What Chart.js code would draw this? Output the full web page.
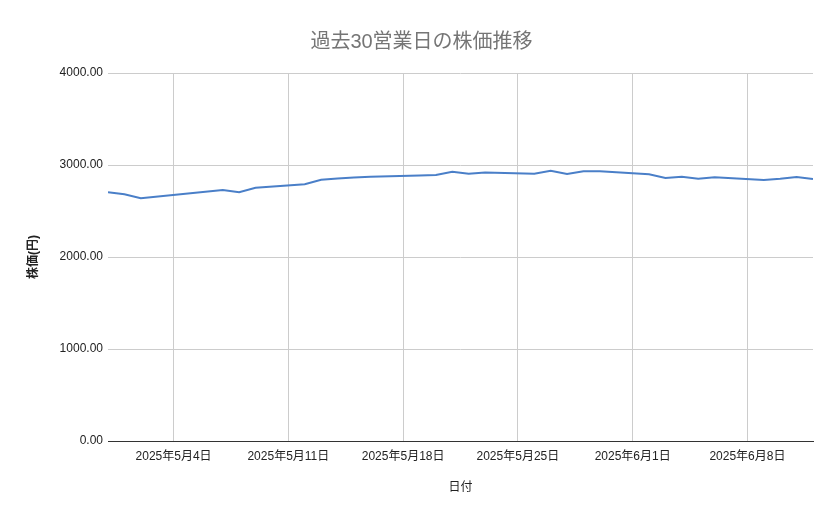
<!DOCTYPE html>
<html>
<head>
  <meta charset="utf-8">
  <title>過去30営業日の株価推移</title>
  <script src="https://cdn.jsdelivr.net/npm/chart.js"></script>
  <style>
    html, body { margin: 0; padding: 0; background: #ffffff; }
    #wrap { width: 839px; height: 519px; position: relative; }
  </style>
</head>
<body>
  <div id="wrap"><canvas id="myChart"></canvas></div>
  <script>
    // 営業日（ゴールデンウィーク 5/3〜5/6 は休み）
    var fechas = [
      '2025-04-30', '2025-05-01', '2025-05-02',
      '2025-05-07', '2025-05-08', '2025-05-09',
      '2025-05-12', '2025-05-13', '2025-05-14', '2025-05-15', '2025-05-16',
      '2025-05-19', '2025-05-20', '2025-05-21', '2025-05-22', '2025-05-23',
      '2025-05-26', '2025-05-27', '2025-05-28', '2025-05-29', '2025-05-30',
      '2025-06-02', '2025-06-03', '2025-06-04', '2025-06-05', '2025-06-06',
      '2025-06-09', '2025-06-10', '2025-06-11', '2025-06-12'
    ];
    // 株価（円）
    var precios = [
      2705, 2682, 2638,
      2728, 2703, 2753,
      2790, 2840, 2853, 2864, 2873,
      2886, 2891, 2927, 2905, 2918,
      2906, 2938, 2902, 2931, 2931,
      2900, 2859, 2873, 2851, 2866,
      2837, 2851, 2870, 2848
    ];
    // x 軸の目盛り
    var etiquetasX = ['2025-05-04', '2025-05-11', '2025-05-18', '2025-05-25', '2025-06-01', '2025-06-08'];
    var etiquetasY = [0, 1000, 2000, 3000, 4000];

    var FUENTE = "Arial, 'Liberation Sans', 'Noto Sans CJK JP', sans-serif";

    function aDia(s) {
      var p = s.split('-');
      return Date.UTC(+p[0], +p[1] - 1, +p[2]) / 86400000;
    }
    function formatoFecha(d) {
      var f = new Date(d * 86400000);
      return f.getUTCFullYear() + '年' + (f.getUTCMonth() + 1) + '月' + f.getUTCDate() + '日';
    }

    var puntos = [];
    for (var i = 0; i < fechas.length; i++) {
      puntos.push({ x: aDia(fechas[i]), y: precios[i] });
    }
    var ticksX = etiquetasX.map(aDia);

    var ctx = document.getElementById('myChart').getContext('2d');
    new Chart(ctx, {
      type: 'line',
      data: {
        datasets: [{
          label: '株価',
          data: puntos,
          borderColor: '#4a7fc8',
          backgroundColor: '#4a7fc8',
          borderWidth: 2,
          pointRadius: 0,
          tension: 0,
          fill: false
        }]
      },
      options: {
        responsive: true,
        maintainAspectRatio: false,
        animation: false,
        // left padding pushes the centred title to the right, like the original
        layout: { padding: { left: 30, right: 26, top: 0, bottom: 0 } },
        plugins: {
          legend: { display: false },
          tooltip: { enabled: false },
          title: {
            display: true,
            text: '過去30営業日の株価推移',
            color: '#757575',
            font: { family: FUENTE, size: 20, weight: 'normal' },
            padding: { top: 30, bottom: 19 }
          }
        },
        scales: {
          x: {
            type: 'linear',
            min: aDia(fechas[0]),
            max: aDia(fechas[fechas.length - 1]),
            afterBuildTicks: function (scale) {
              scale.ticks = ticksX.map(function (v) { return { value: v }; });
            },
            afterFit: function (scale) { scale.height = 78; },
            ticks: {
              autoSkip: false,
              maxRotation: 0,
              padding: 8,
              color: '#222222',
              font: { family: FUENTE, size: 12 },
              callback: function (v) { return formatoFecha(v); }
            },
            grid: { color: '#cccccc', lineWidth: 1, drawTicks: false },
            border: { display: true, color: '#333333', width: 1 },
            title: {
              display: true,
              text: '日付',
              color: '#222222',
              font: { family: FUENTE, size: 12 },
              padding: { top: 0, bottom: 24 }
            }
          },
          y: {
            min: 0,
            max: 4000,
            afterBuildTicks: function (scale) {
              scale.ticks = etiquetasY.map(function (v) { return { value: v }; });
            },
            afterFit: function (scale) { scale.width = 78; },
            ticks: {
              padding: 5,
              color: '#222222',
              font: { family: FUENTE, size: 12 },
              callback: function (v) { return v.toFixed(2); }
            },
            grid: {
              color: function (c) { return c.tick && c.tick.value === 0 ? '#333333' : '#cccccc'; },
              lineWidth: 1,
              drawTicks: false
            },
            border: { display: false },
            title: {
              display: true,
              text: '株価(円)',
              color: '#222222',
              font: { family: FUENTE, size: 12, weight: 'bold' },
              padding: { top: -4, bottom: 0 }
            }
          }
        }
      }
    });
  </script>
</body>
</html>
